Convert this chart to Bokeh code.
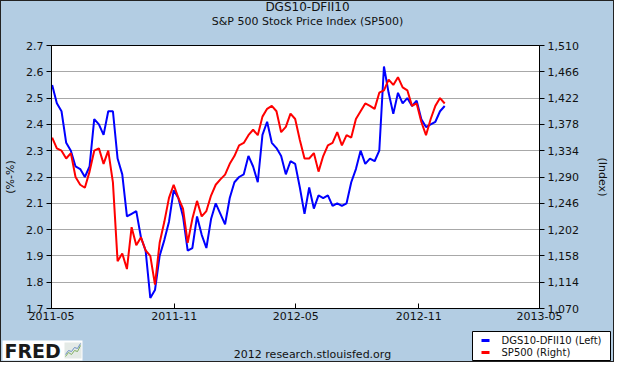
import pandas as pd
from bokeh.plotting import figure
from bokeh.layouts import column
from bokeh.models import (Range1d, LinearAxis, FixedTicker, NumeralTickFormatter,
                          DatetimeTickFormatter)
from bokeh.core.properties import value
from bokeh.embed import file_html
from bokeh.resources import INLINE

# ---- data (weekly readings from the chart) ----
start_date = "2011-05-02"
n_weeks = 85

breakeven = [2.55, 2.48, 2.45, 2.33, 2.30, 2.24, 2.23, 2.20, 2.24, 2.42,
             2.40, 2.36, 2.45, 2.45, 2.27, 2.21, 2.05, 2.06, 2.07, 1.97,
             1.92, 1.74, 1.77, 1.90, 1.96, 2.03, 2.15, 2.12, 2.05, 1.92,
             1.93, 2.05, 1.98, 1.93, 2.04, 2.10, 2.06, 2.02, 2.12, 2.18,
             2.20, 2.21, 2.28, 2.24, 2.18, 2.36, 2.41, 2.33, 2.31, 2.28,
             2.21, 2.26, 2.25, 2.16, 2.06, 2.16, 2.08, 2.13, 2.12, 2.13,
             2.09, 2.10, 2.09, 2.10, 2.18, 2.23, 2.30, 2.25, 2.27, 2.26,
             2.30, 2.62, 2.52, 2.44, 2.52, 2.48, 2.50, 2.47, 2.49, 2.42,
             2.39, 2.40, 2.41, 2.45, 2.47]

sp500 = [1356, 1338, 1334, 1321, 1330, 1290, 1277, 1272, 1299, 1334,
         1338, 1312, 1334, 1281, 1149, 1162, 1136, 1206, 1176, 1189,
         1167, 1158, 1110, 1180, 1215, 1255, 1277, 1255, 1237, 1180,
         1220, 1250, 1224, 1233, 1259, 1277, 1286, 1294, 1312, 1325,
         1343, 1347, 1360, 1369, 1360, 1391, 1404, 1409, 1400, 1365,
         1374, 1396, 1387, 1352, 1321, 1321, 1330, 1299, 1325, 1343,
         1347, 1365, 1343, 1360, 1356, 1387, 1400, 1413, 1409, 1404,
         1431, 1435, 1453, 1444, 1457, 1440, 1435, 1409, 1413, 1382,
         1360, 1387, 1409, 1422, 1413]

x_tick_dates = ["2011-05-01", "2011-11-01", "2012-05-01", "2012-11-01", "2013-05-01"]
left_ticks = [1.7, 1.8, 1.9, 2.0, 2.1, 2.2, 2.3, 2.4, 2.5, 2.6, 2.7]
right_ticks = [1070, 1114, 1158, 1202, 1246, 1290, 1334, 1378, 1422, 1466, 1510]

title_main = "DGS10-DFII10"
title_sub = "S&P 500 Stock Price Index (SP500)"
footer_text = "2012 research.stlouisfed.org"
logo_text = "FRED"
legend_labels = ["DGS10-DFII10 (Left)", "SP500 (Right)"]

dates = pd.date_range(start_date, periods=n_weeks, freq="7D")

BG = "#B3CDE3"
FONT = "DejaVu Sans"
BLUE = "#0000FF"
RED = "#FF0000"
W = 612


def ms(d):
    return pd.Timestamp(d).value // 10**6


def strip(height):
    f = figure(width=W, height=height, output_backend="svg", toolbar_location=None,
               x_range=Range1d(0, W), y_range=Range1d(0, height),
               x_axis_location=None, y_axis_location=None,
               min_border=0, background_fill_color=BG, border_fill_color=BG)
    f.frame_align = False
    f.grid.visible = False
    f.outline_line_color = None
    return f


# ---------------- top strip: titles ----------------
TH = 38
t = strip(TH)
t.text(x=[306], y=[TH - 5.5], text=[title_main], text_font=value(FONT),
       text_font_size="12px", text_align="center", text_baseline="middle",
       text_color="#111111")
t.text(x=[306], y=[TH - 19.5], text=[title_sub], text_font=value(FONT),
       text_font_size="11px", text_align="center", text_baseline="middle",
       text_color="#111111")

# ---------------- main chart ----------------
p = figure(width=W, height=290, x_axis_type="datetime",
           output_backend="svg", toolbar_location=None,
           x_range=Range1d(ms(x_tick_dates[0]), ms(x_tick_dates[-1])),
           y_range=Range1d(left_ticks[0], left_ticks[-1]),
           min_border_left=45, min_border_right=74,
           min_border_top=6, min_border_bottom=21,
           background_fill_color="white", border_fill_color=BG)
p.frame_align = False
p.outline_line_color = "black"
p.outline_line_width = 1

p.extra_y_ranges = {"sp": Range1d(right_ticks[0], right_ticks[-1])}

p.line(dates, breakeven, line_color=BLUE, line_width=2)
p.line(dates, sp500, line_color=RED, line_width=2, y_range_name="sp")

xa = p.xaxis[0]
xa.ticker = FixedTicker(ticks=[ms(d) for d in x_tick_dates])
xa.formatter = DatetimeTickFormatter(days="%Y-%m", months="%Y-%m", years="%Y-%m")
xa.major_tick_in = 5
xa.major_tick_out = 0
xa.major_label_standoff = 3

ya = p.yaxis[0]
ya.ticker = FixedTicker(ticks=left_ticks)
ya.formatter = NumeralTickFormatter(format="0.0")
ya.axis_label = "(%-%)"

ra = LinearAxis(y_range_name="sp", ticker=FixedTicker(ticks=right_ticks),
                formatter=NumeralTickFormatter(format="0,0"), axis_label="(Index)")
p.add_layout(ra, "right")

for ax in [xa, ya, ra]:
    ax.major_label_text_font = FONT
    ax.major_label_text_font_size = "11px"
    ax.major_label_text_color = "#111111"
    ax.axis_label_text_font = FONT
    ax.axis_label_text_font_size = "11px"
    ax.axis_label_text_font_style = "normal"
    ax.axis_label_text_color = "#111111"
    ax.axis_line_color = "black"
    ax.major_tick_line_color = "black"
    ax.minor_tick_line_color = None
for ax in [ya, ra]:
    ax.major_tick_in = 0
    ax.major_tick_out = 5
    ax.major_label_standoff = 3
ya.axis_label_standoff = 6
ra.axis_label_standoff = 14

p.xgrid.visible = False
p.ygrid.grid_line_color = "#A8A8A8"
p.ygrid.grid_line_width = 1

# ---------------- bottom strip: logo, footer, legend ----------------
SH = 32
s = strip(SH)

# FRED logo
s.quad(left=1, right=81, bottom=1, top=21, fill_color="white", line_color=None)
s.text(x=[3], y=[11], text=[logo_text], text_font=value(FONT), text_font_size="19px",
       text_font_style="bold", text_baseline="middle", text_color="#1a1a1a")
s.quad(left=63, right=80, bottom=3, top=19, fill_color="#E4EAE6", line_color=None)
s.line(x=[64, 67, 70, 73, 76, 79], y=[5, 9, 7, 11, 10, 16], line_color="#7fae5e", line_width=1)
s.line(x=[64, 67, 70, 73, 76, 79], y=[7, 11, 10, 14, 13, 18], line_color="#6d8fc4", line_width=1)

# footer
s.text(x=[311], y=[7], text=[footer_text], text_font=value(FONT), text_font_size="11px",
       text_align="center", text_baseline="middle", text_color="#111111")

# legend box
s.quad(left=471, right=609, bottom=1, top=30, fill_color="white",
       line_color="black", line_width=1)
s.segment(x0=[480, 480], y0=[21, 9], x1=[488, 488], y1=[21, 9],
          line_color=[BLUE, RED], line_width=3)
s.text(x=[500, 500], y=[21, 9], text=legend_labels, text_font=value(FONT),
       text_font_size="10px", text_baseline="middle", text_color="#111111")

lay = column(t, p, s, spacing=0)
lay.styles = {"border": "1px solid #222222", "background-color": BG}

open("out.html", "w").write(file_html(lay, INLINE))
